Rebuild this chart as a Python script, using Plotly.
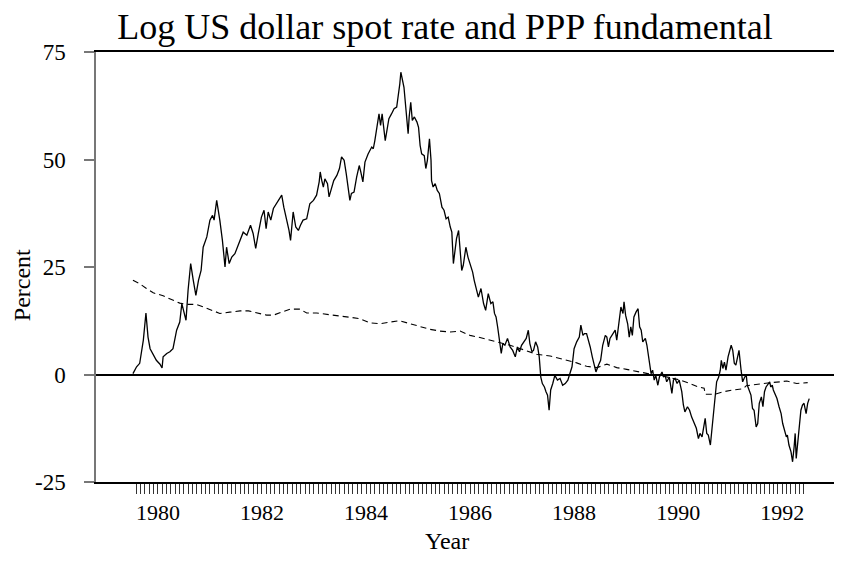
import plotly.graph_objects as go

# ---- data ----
spot_year = [
    1979.52, 1979.59, 1979.65, 1979.72, 1979.77, 1979.81, 1979.85, 1979.91, 1979.97,
    1980.04, 1980.08, 1980.10, 1980.17, 1980.23, 1980.29, 1980.36, 1980.42, 1980.46,
    1980.49, 1980.54, 1980.58, 1980.63, 1980.68, 1980.73, 1980.78, 1980.83, 1980.87,
    1980.94, 1981.00, 1981.05, 1981.08, 1981.13, 1981.19, 1981.24, 1981.29, 1981.32,
    1981.37, 1981.42, 1981.48, 1981.52, 1981.58, 1981.64, 1981.71, 1981.78, 1981.83,
    1981.88, 1981.93, 1981.99, 1982.04, 1982.08, 1982.12, 1982.17, 1982.22, 1982.28,
    1982.33, 1982.38, 1982.42, 1982.48, 1982.52, 1982.55, 1982.60, 1982.65, 1982.70,
    1982.74, 1982.79, 1982.86, 1982.92, 1982.99, 1983.05, 1983.10,
    1983.12, 1983.15, 1983.18, 1983.21, 1983.26, 1983.29, 1983.34, 1983.38, 1983.44,
    1983.49, 1983.53, 1983.58, 1983.62, 1983.66, 1983.69, 1983.72, 1983.77, 1983.82,
    1983.87, 1983.90, 1983.94, 1983.98, 1984.04, 1984.11, 1984.14, 1984.17, 1984.22,
    1984.25, 1984.28, 1984.31, 1984.37, 1984.40, 1984.44, 1984.49, 1984.54, 1984.59,
    1984.62, 1984.65, 1984.67, 1984.71, 1984.73, 1984.77, 1984.81, 1984.83, 1984.86,
    1984.89, 1984.93, 1984.98, 1985.01, 1985.04, 1985.07, 1985.12, 1985.15, 1985.18,
    1985.22, 1985.25, 1985.26, 1985.29, 1985.33, 1985.37, 1985.41, 1985.46, 1985.50,
    1985.54, 1985.58, 1985.62, 1985.65, 1985.68, 1985.71, 1985.74, 1985.78, 1985.81,
    1985.84, 1985.87, 1985.92, 1985.96, 1986.00, 1986.05, 1986.08, 1986.12, 1986.16,
    1986.21, 1986.26, 1986.30, 1986.35, 1986.40, 1986.44, 1986.47, 1986.50, 1986.53,
    1986.56, 1986.60, 1986.63, 1986.67, 1986.72, 1986.77, 1986.82, 1986.87, 1986.91,
    1986.95, 1986.99, 1987.04, 1987.08, 1987.12, 1987.15, 1987.19, 1987.22, 1987.26,
    1987.30, 1987.33, 1987.36, 1987.39, 1987.43, 1987.46, 1987.49, 1987.52, 1987.55,
    1987.59, 1987.63, 1987.68, 1987.73, 1987.78, 1987.83, 1987.88, 1987.92, 1987.96,
    1988.00, 1988.05, 1988.10, 1988.13, 1988.17, 1988.20, 1988.24, 1988.28, 1988.31,
    1988.35, 1988.39, 1988.42, 1988.47, 1988.51, 1988.55, 1988.60, 1988.63, 1988.66,
    1988.69, 1988.74, 1988.79, 1988.82, 1988.85, 1988.90, 1988.94, 1988.96, 1988.99,
    1989.03, 1989.06, 1989.09, 1989.12, 1989.15, 1989.19, 1989.23, 1989.26, 1989.29,
    1989.32, 1989.37, 1989.40, 1989.45, 1989.48, 1989.51, 1989.54, 1989.57, 1989.61,
    1989.64, 1989.69, 1989.72, 1989.75, 1989.78, 1989.83, 1989.88, 1989.91, 1989.94,
    1989.98, 1990.02, 1990.07, 1990.10, 1990.13, 1990.18, 1990.22, 1990.26, 1990.31,
    1990.35, 1990.39, 1990.42, 1990.46, 1990.49, 1990.52, 1990.55, 1990.58, 1990.62,
    1990.65, 1990.68, 1990.71, 1990.74, 1990.78, 1990.81, 1990.83, 1990.86, 1990.89,
    1990.92, 1990.96, 1990.99, 1991.02, 1991.05, 1991.08, 1991.11, 1991.14, 1991.17,
    1991.21, 1991.24, 1991.28, 1991.31, 1991.33, 1991.37, 1991.40, 1991.43, 1991.46,
    1991.50, 1991.53, 1991.56, 1991.60, 1991.63, 1991.66, 1991.69, 1991.73, 1991.76,
    1991.78, 1991.81, 1991.83, 1991.87, 1991.90, 1991.94, 1991.98, 1992.01, 1992.04,
    1992.08, 1992.10, 1992.13, 1992.17, 1992.20, 1992.23, 1992.25, 1992.27, 1992.29,
    1992.33, 1992.36, 1992.39, 1992.42, 1992.46, 1992.49, 1992.52,
]
spot_value = [
    0.2, 1.8, 2.6, 8.0, 14.3, 8.7, 6.0, 4.5, 3.3,
    2.4, 1.5, 4.1, 4.9, 5.3, 6.0, 10.3, 12.2, 16.5,
    14.9, 12.6, 19.6, 25.8, 21.9, 18.4, 21.9, 24.2, 29.6,
    32.0, 35.9, 37.0, 35.9, 40.5, 35.9, 31.2, 25.0, 29.6,
    25.8, 27.3, 28.1, 29.3, 31.2, 33.1, 32.4, 34.7, 32.8,
    29.3, 32.8, 36.6, 38.2, 33.9, 37.8, 35.9, 38.6, 39.7,
    40.5, 41.7, 38.9, 35.9, 33.5, 31.2, 37.8, 34.3, 33.5,
    34.7, 35.9, 36.2, 39.7, 40.5, 41.7, 44.8,
    47.1, 45.1, 43.6, 45.5, 44.4, 41.3, 43.2, 45.1, 46.3,
    47.9, 50.6, 49.8, 46.7, 43.6, 40.5, 42.1, 42.4, 45.9,
    48.6, 47.1, 44.8, 49.4, 51.3, 52.9, 52.5, 54.4, 59.1,
    60.6, 57.9, 60.6, 54.4, 56.4, 59.5, 60.6, 61.8, 62.2,
    64.5, 67.6, 70.3, 68.4, 66.8, 61.4, 56.0, 59.9, 63.3,
    59.1, 59.9, 58.7, 57.5, 53.3, 51.3, 50.9, 47.9, 49.8,
    54.8, 49.8, 45.1, 43.6, 44.4, 42.8, 42.1, 38.9, 38.2,
    36.2, 36.6, 34.3, 33.1, 25.8, 28.9, 31.6, 33.5, 28.9,
    24.2, 25.4, 29.6, 27.3, 25.8, 23.8, 21.9, 19.6, 18.0,
    20.0, 16.5, 14.9, 18.8, 16.5, 16.9, 14.2, 13.4, 11.1,
    8.0, 4.9, 7.2, 6.8, 8.4, 6.4, 5.6, 4.1, 6.4,
    5.3, 6.8, 7.6, 8.4, 10.3, 7.2, 5.3, 5.6, 7.6,
    6.4, 4.1, -0.6, -2.1, -2.9, -4.0, -4.8, -8.3, -3.6,
    -2.1, -0.2, -1.3, -0.9, -2.5, -2.1, -1.3, 0.2, 1.8,
    6.0, 7.6, 8.7, 11.5, 9.1, 9.5, 9.5, 8.0, 6.4,
    4.1, 1.8, 0.6, 2.2, 3.3, 6.8, 9.1, 8.7, 6.4,
    8.4, 9.5, 10.3, 8.0, 11.1, 15.7, 14.2, 16.9, 13.8,
    11.8, 8.7, 11.1, 9.1, 13.4, 14.5, 15.3, 11.1, 10.3,
    7.6, 8.4, 6.8, 2.9, 0.2, 1.0, -1.3, -0.2, -2.5,
    -0.6, 0.6, -0.6, -0.2, -1.7, -0.6, -4.4, -1.3, -0.9,
    -2.1, -1.3, -4.0, -7.0, -8.7, -7.5, -8.3, -9.9, -11.4,
    -12.5, -14.9, -13.7, -14.5, -12.5, -10.2, -13.7, -14.1, -16.4,
    -12.9, -9.1, -5.2, -1.7, -0.6, 1.0, 3.3, 1.4, 2.9,
    1.0, 4.1, 5.6, 6.8, 5.6, 2.6, 2.2, 4.1, 5.6,
    1.0, -1.7, -0.6, -0.2, -2.5, -4.0, -4.8, -7.9, -8.3,
    -12.2, -11.4, -6.7, -5.2, -7.5, -4.0, -2.9, -2.1, -1.7,
    -2.9, -2.5, -3.6, -4.8, -5.6, -7.5, -9.1, -11.4, -12.9,
    -14.5, -14.1, -16.4, -18.0, -20.3, -16.8, -13.7, -19.5, -16.8,
    -11.4, -8.3, -7.1, -6.7, -9.1, -6.7, -5.6,
]

ppp_year = [
    1979.52, 1979.65, 1979.78, 1979.91, 1980.10, 1980.26, 1980.42, 1980.58, 1980.74,
    1980.90, 1981.06, 1981.19, 1981.38, 1981.58, 1981.74, 1981.90, 1982.09, 1982.22,
    1982.38, 1982.54, 1982.73, 1982.86, 1983.05, 1983.37, 1983.63, 1983.88, 1984.08,
    1984.27, 1984.46, 1984.65, 1984.85, 1985.04, 1985.23, 1985.42, 1985.62, 1985.81,
    1986.00, 1986.19, 1986.38, 1986.58, 1986.77, 1987.09, 1987.28, 1987.54, 1987.79,
    1988.05, 1988.24, 1988.44, 1988.63, 1988.82, 1989.01, 1989.27, 1989.46, 1989.65,
    1989.85, 1990.04, 1990.23, 1990.39, 1990.50, 1990.52, 1990.71, 1990.87, 1991.06,
    1991.25, 1991.31, 1991.58, 1991.77, 1991.96, 1992.09, 1992.28, 1992.49,
]
ppp_value = [
    21.9, 21.1, 20.0, 19.0, 18.3, 17.4, 16.6, 16.3, 16.3,
    15.6, 14.8, 14.2, 14.5, 14.8, 14.8, 14.3, 13.8, 13.8,
    14.5, 15.2, 15.2, 14.3, 14.3, 13.8, 13.4, 13.0, 12.0,
    11.8, 12.2, 12.5, 11.8, 11.1, 10.5, 10.1, 9.9, 10.1,
    9.1, 8.6, 8.0, 7.3, 6.8, 5.5, 4.7, 4.3, 3.6,
    2.7, 1.9, 1.6, 2.4, 1.6, 1.2, 0.5, 0.1, -0.2,
    -0.7, -1.3, -2.1, -2.9, -3.2, -4.6, -4.6, -4.0, -3.6,
    -3.3, -2.6, -2.1, -1.9, -1.7, -1.5, -2.1, -1.9,
]

y_tick_values = [-25, 0, 25, 50, 75]
y_tick_labels = ["-25", "0", "25", "50", "75"]
x_label_years = [1980, 1982, 1984, 1986, 1988, 1990, 1992]
tick_first = (1979, 8)   # first monthly tick (year, month)
tick_last = (1992, 6)    # last monthly tick

TITLE = "Log US dollar spot rate and PPP fundamental"
FONT = "Liberation Serif, Times New Roman, serif"

# monthly tick marks with labels on every second January
month_ticks, month_text = [], []
yr, mo = tick_first
while (yr, mo) <= tick_last:
    month_ticks.append(yr + (mo - 1) / 12)
    month_text.append(str(yr) if (mo == 1 and yr in x_label_years) else "")
    mo += 1
    if mo > 12:
        mo = 1
        yr += 1

fig = go.Figure()
fig.add_trace(go.Scatter(
    x=ppp_year, y=ppp_value, mode="lines",
    line=dict(color="black", width=1.1, dash="6px,4px"),
    name="PPP fundamental", hoverinfo="skip",
))
fig.add_trace(go.Scatter(
    x=spot_year, y=spot_value, mode="lines",
    line=dict(color="black", width=1.3),
    name="Spot rate",
))

fig.update_layout(
    width=834, height=553,
    paper_bgcolor="white", plot_bgcolor="white",
    margin=dict(l=88, r=0, t=44, b=79),
    showlegend=False,
    font=dict(family=FONT, color="black"),
    title=dict(text=TITLE, x=437 / 834, xanchor="center",
               y=0.99, yanchor="top", yref="container",
               font=dict(size=36, family=FONT, color="black")),
    xaxis=dict(
        range=[1978.81, 1993.15],
        tickmode="array", tickvals=month_ticks, ticktext=month_text,
        tickangle=0, ticks="outside", ticklen=10, tickwidth=1, tickcolor="#333",
        tickfont=dict(size=22, family=FONT, color="black"),
        showline=True, linecolor="black", linewidth=1.5, mirror=True,
        showgrid=False, zeroline=False,
    ),
    yaxis=dict(
        range=[-25, 75],
        tickmode="array", tickvals=y_tick_values, ticktext=y_tick_labels,
        ticks="outside", ticklen=10, tickwidth=1.5, tickcolor="#777",
        tickfont=dict(size=23, family=FONT, color="black"),
        ticklabelstandoff=14,
        showline=True, linecolor="#777", linewidth=1.5,
        showgrid=False, zeroline=True, zerolinecolor="black", zerolinewidth=1.5,
    ),
    annotations=[
        dict(text="Year", xref="paper", yref="paper", x=0.4705, y=-0.137,
             xanchor="center", yanchor="middle", showarrow=False,
             font=dict(size=24, family=FONT, color="black")),
        dict(text="Percent", xref="paper", yref="paper", x=-0.099, y=0.458,
             xanchor="center", yanchor="middle", textangle=-90, showarrow=False,
             font=dict(size=24, family=FONT, color="black")),
    ],
)

fig.write_html("out.html")
